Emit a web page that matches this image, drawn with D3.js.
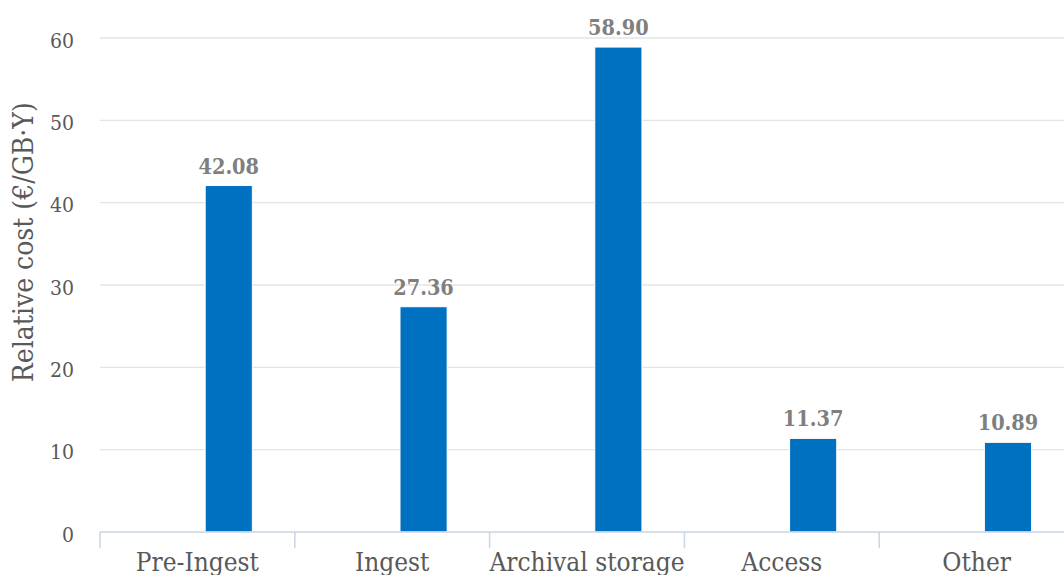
<!DOCTYPE html>
<html>
<head>
<meta charset="utf-8">
<script src="https://cdn.jsdelivr.net/npm/d3@7"></script>
<style>
body { margin: 0; background: #fff; }
text { font-family: "DejaVu Serif Condensed", "DejaVu Serif", serif; font-stretch: condensed; }
</style>
</head>
<body>
<script>
let categories = ["Pre-Ingest", "Ingest", "Archival storage", "Access", "Other"];
let costs = [42.08, 27.36, 58.90, 11.37, 10.89];
let yTicks = [0, 10, 20, 30, 40, 50, 60];

let width = 1064, height = 575;
let svg = d3.select("body").append("svg")
  .attr("width", width).attr("height", height);

let x = d3.scaleBand().domain(categories).range([100, 1074]).padding(0);
let y = d3.scaleLinear().domain([0, 60]).range([532, 38]);

// gridlines
svg.append("g").selectAll("line")
  .data(yTicks.slice(1))
  .enter().append("line")
  .attr("x1", 100).attr("x2", width)
  .attr("y1", function (d) { return y(d); })
  .attr("y2", function (d) { return y(d); })
  .attr("stroke", "#e4e4e4").attr("stroke-width", 1.3);

// y tick labels
svg.append("g").selectAll("text")
  .data(yTicks)
  .enter().append("text")
  .text(function (d) { return d; })
  .attr("x", 74)
  .attr("y", function (d) { return y(d) + 9.5; })
  .attr("text-anchor", "end")
  .attr("font-size", 21)
  .attr("fill", "#595959");

// y title
svg.append("text")
  .text("Relative cost (€/GB·Y)")
  .attr("transform", "translate(33," + y(35.2) + ") rotate(-90)")
  .attr("text-anchor", "middle")
  .attr("font-size", 28)
  .attr("fill", "#595959");

// bars
let bw = x.bandwidth();
svg.append("g").selectAll("rect")
  .data(costs)
  .enter().append("rect")
  .attr("x", function (d, i) { return x(categories[i]) + bw * 0.54; })
  .attr("width", bw * 0.242)
  .attr("y", function (d) { return y(d); })
  .attr("height", function (d) { return y(0) - y(d); })
  .attr("fill", "#0070c0")
  .attr("stroke", "#ffffff").attr("stroke-width", 1);

// value labels
svg.append("g").selectAll("text")
  .data(costs)
  .enter().append("text")
  .text(function (d) { return d.toFixed(2); })
  .attr("x", function (d, i) { return x(categories[i]) + bw * 0.661; })
  .attr("y", function (d) { return y(d) - 12; })
  .attr("text-anchor", "middle")
  .attr("font-weight", "bold")
  .attr("font-size", 21.5)
  .attr("fill", "#7f7f7f");

// x axis line and ticks
let axis = svg.append("g").attr("stroke", "#c9d5e8").attr("stroke-width", 1.5);
axis.append("line")
  .attr("x1", 100).attr("x2", width)
  .attr("y1", y(0)).attr("y2", y(0));
axis.selectAll(".tick")
  .data(categories)
  .enter().append("line")
  .attr("x1", function (d) { return x(d); })
  .attr("x2", function (d) { return x(d); })
  .attr("y1", y(0)).attr("y2", y(0) + 16);

// category labels
svg.append("g").selectAll("text")
  .data(categories)
  .enter().append("text")
  .text(function (d) { return d; })
  .attr("x", function (d) { return x(d) + bw / 2; })
  .attr("y", 571)
  .attr("text-anchor", "middle")
  .attr("font-size", 26)
  .attr("fill", "#595959");
</script>
</body>
</html>
